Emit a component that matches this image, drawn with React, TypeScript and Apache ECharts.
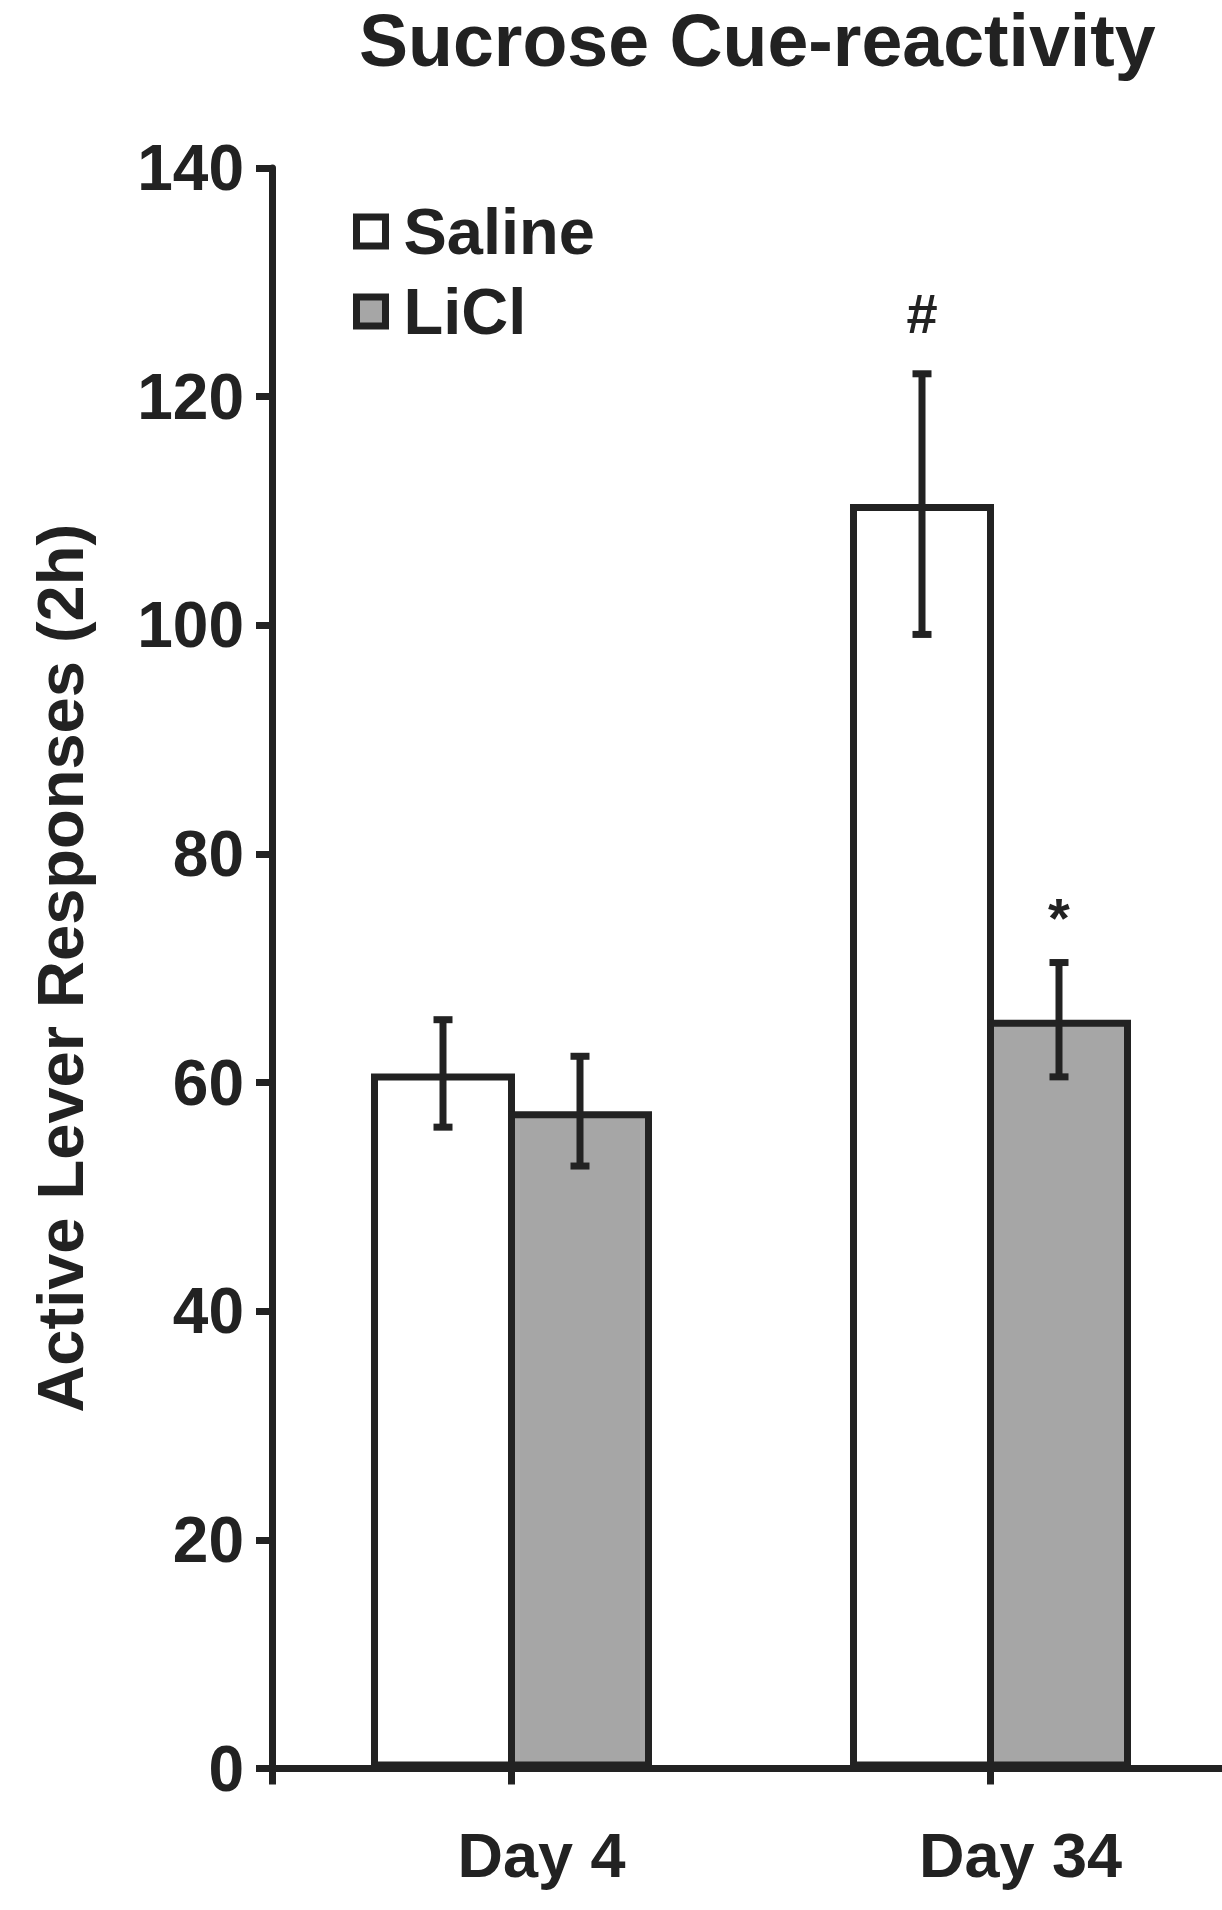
import React, { useEffect, useRef } from "react";
import * as echarts from "echarts";

const days = ["Day 4", "Day 34"];
const seriesNames = ["Saline", "LiCl"];
const salineMean = [60.8, 110.6];
const salineSE = [4.7, 11.4];
const liclMean = [57.5, 65.5];
const liclSE = [4.8, 5.0];
const yMin = 0;
const yMax = 140;
const yInterval = 20;
// significance marks: series index, day index, symbol
const marks = [
  { s: 0, d: 1, text: "#" },
  { s: 1, d: 1, text: "*" },
];

const FONT = "'Liberation Sans', Arial, Helvetica, sans-serif";
const INK = "#222222";
const GRAY = "#a6a6a6";
const STROKE = 7;
const BAR_W = 144;
const BAR_GAP = "-" + ((STROKE / BAR_W) * 100).toFixed(2) + "%";
const markLift: Record<string, number> = { "#": 60, "*": 45 };

export default function App() {
  const ref = useRef<HTMLDivElement>(null);
  useEffect(() => {
    if (!ref.current) return;
    const chart = echarts.init(ref.current, null, { renderer: "svg", width: 1222, height: 1910 });

    const means = [salineMean, liclMean];
    const ses = [salineSE, liclSE];
    const errData: number[][] = [];
    const errMarks: string[] = [];
    for (let s = 0; s < 2; s++) {
      for (let d = 0; d < days.length; d++) {
        errData.push([d, means[s][d], ses[s][d], s]);
        const m = marks.find((k) => k.s === s && k.d === d);
        errMarks.push(m ? m.text : "");
      }
    }

    const lineStyle = { color: INK, width: STROKE };
    const labelBase = { fontFamily: FONT, fontWeight: "bold" as const, color: INK };

    const option: any = {
      animation: false,
      backgroundColor: "#ffffff",
      title: {
        text: "Sucrose Cue-reactivity",
        left: 359,
        top: 0,
        padding: 0,
        textStyle: { ...labelBase, fontSize: 73.5, lineHeight: 80 },
      },
      legend: {
        data: seriesNames.map((n) => ({ name: n, icon: "rect" })),
        orient: "vertical",
        left: 348,
        top: 194,
        itemWidth: 29,
        itemHeight: 29,
        itemGap: 15,
        selectedMode: false,
        itemStyle: { borderColor: INK, borderWidth: STROKE },
        textStyle: { ...labelBase, fontSize: 65, lineHeight: 62, padding: [0, 0, 0, 13] },
      },
      grid: {
        left: 272,
        top: 168,
        width: 958,
        height: 1600.5,
        containLabel: false,
        outerBoundsMode: "none",
      },
      xAxis: [
        {
          type: "category",
          data: days,
          position: "bottom",
          axisLine: { show: true, lineStyle },
          axisTick: { show: true, alignWithLabel: true, length: 16, lineStyle },
          axisLabel: { ...labelBase, fontSize: 63, margin: 55, padding: [0, 0, 0, 60] },
          splitLine: { show: false },
        },
        {
          type: "value",
          min: 0,
          max: 2,
          interval: 2,
          position: "bottom",
          axisLine: { show: false },
          axisLabel: { show: false },
          splitLine: { show: false },
          axisTick: { show: true, length: 16, lineStyle },
        },
      ],
      yAxis: {
        type: "value",
        min: yMin,
        max: yMax,
        interval: yInterval,
        name: "Active Lever Responses (2h)",
        nameLocation: "middle",
        nameRotate: 90,
        nameGap: 179,
        nameTextStyle: { ...labelBase, fontSize: 65 },
        axisLine: { show: true, lineStyle },
        axisTick: { show: true, length: 16, lineStyle },
        axisLabel: { ...labelBase, fontSize: 64, margin: 28 },
        splitLine: { show: false },
      },
      series: [
        {
          name: seriesNames[0],
          type: "bar",
          data: salineMean,
          barWidth: BAR_W,
          barGap: BAR_GAP,
          itemStyle: { color: "#ffffff", borderColor: INK, borderWidth: STROKE },
          z: 2,
        },
        {
          name: seriesNames[1],
          type: "bar",
          data: liclMean,
          barWidth: BAR_W,
          barGap: BAR_GAP,
          itemStyle: { color: GRAY, borderColor: INK, borderWidth: STROKE },
          z: 3,
        },
        {
          name: "err",
          type: "custom",
          data: errData,
          z: 5,
          renderItem: (params: any, api: any) => {
            const d = api.value(0);
            const mean = api.value(1);
            const se = api.value(2);
            const s = api.value(3);
            const off = (BAR_W - STROKE) / 2;
            const c = api.coord([d, mean]);
            const x = c[0] + (s === 0 ? -off : off);
            const yTop = api.coord([d, mean + se])[1];
            const yBot = api.coord([d, mean - se])[1];
            const cap = 9.5;
            const st = { stroke: INK, lineWidth: STROKE, lineCap: "butt" };
            const children: any[] = [
              { type: "line", shape: { x1: x, y1: yTop, x2: x, y2: yBot }, style: st },
              { type: "line", shape: { x1: x - cap, y1: yTop, x2: x + cap, y2: yTop }, style: st },
              { type: "line", shape: { x1: x - cap, y1: yBot, x2: x + cap, y2: yBot }, style: st },
            ];
            const m = errMarks[params.dataIndex];
            if (m) {
              children.push({
                type: "text",
                x: x,
                y: yTop - (markLift[m] || 50),
                style: {
                  text: m,
                  fill: INK,
                  font: `bold 56px ${FONT}`,
                  textAlign: "center",
                  textVerticalAlign: "middle",
                },
              });
            }
            return { type: "group", children };
          },
        },
      ],
    };
    chart.setOption(option);
    return () => chart.dispose();
  }, []);

  return (
    <div
      ref={ref}
      style={{ position: "absolute", left: 0, top: 0, width: 1222, height: 1910, background: "#fff" }}
    />
  );
}
